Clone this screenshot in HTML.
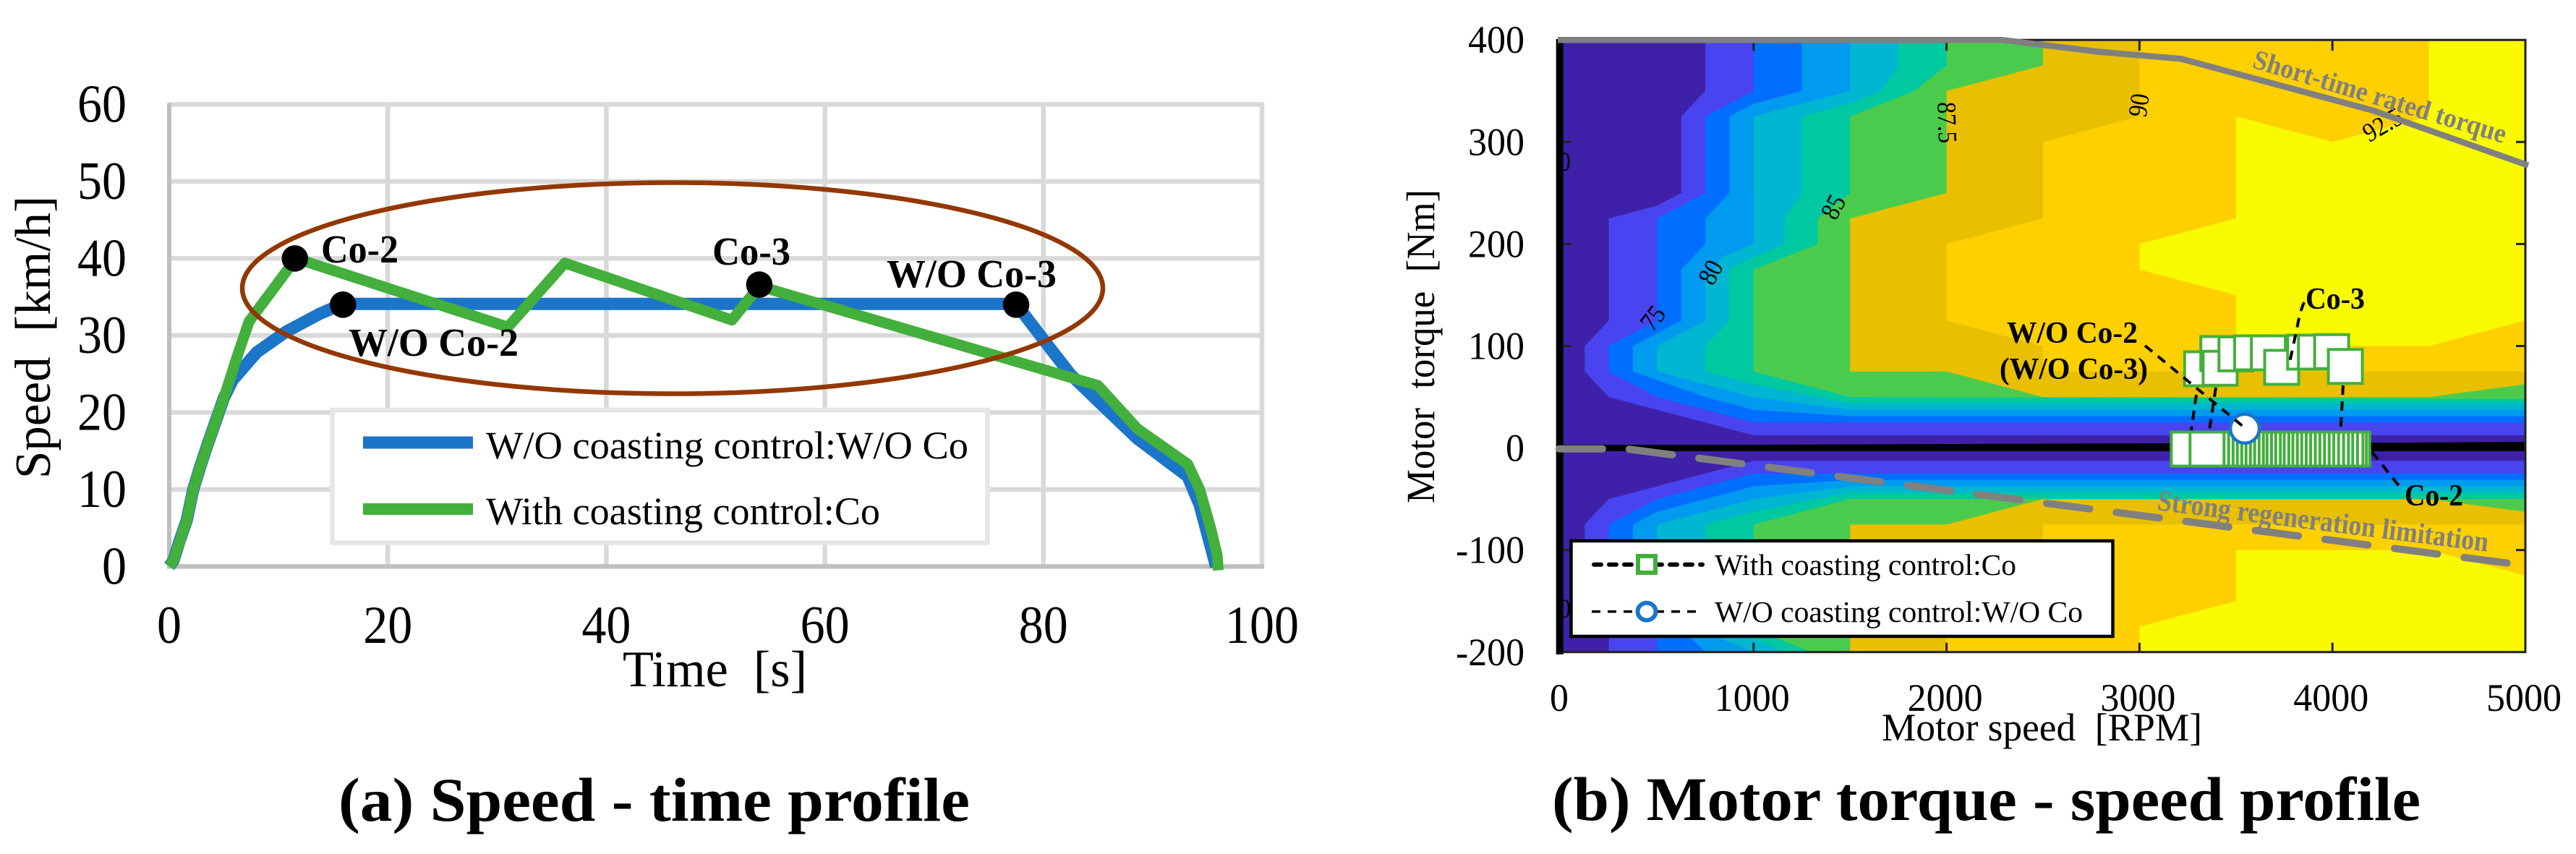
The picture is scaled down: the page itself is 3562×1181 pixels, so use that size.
<!DOCTYPE html>
<html lang="en">
<head>
<meta charset="utf-8">
<title>Speed-time and motor torque-speed profiles</title>
<style>
  html, body { margin: 0; padding: 0; background: #fff; }
  svg { display: block; font-family: "Liberation Serif", serif; }
  text { fill: #000; }
  .bold { font-weight: bold; }
</style>
</head>
<body>
<svg id="figure" xmlns="http://www.w3.org/2000/svg" width="3562" height="1181" viewBox="0 0 3562 1181">
  <defs>
    <clipPath id="plot-clip"><rect x="2158" y="55" width="1334" height="847"/></clipPath>
  </defs>
  <rect width="3562" height="1181" fill="#fff"/>

  <g id="left-grid"></g>
  <g id="left-ticks" font-size="74"></g>
  <text x="861" y="949" font-size="71" textLength="255" lengthAdjust="spacingAndGlyphs">Time&#160; [s]</text>
  <text transform="translate(69 662) rotate(-90)" font-size="70" textLength="391" lengthAdjust="spacingAndGlyphs">Speed&#160; [km/h]</text>
  <g id="left-series"></g>
  <ellipse cx="930" cy="398.5" rx="595" ry="146" fill="none" stroke="#933800" stroke-width="6.5"/>

  <g>
    <rect x="459.5" y="567" width="906" height="183.5" fill="#fff" stroke="#e6e6e6" stroke-width="6.5"/>
    <rect x="502" y="603.5" width="152" height="17" fill="#1b75c9"/>
    <text x="672" y="634" font-size="54" textLength="667" lengthAdjust="spacingAndGlyphs">W/O coasting control:W/O Co</text>
    <rect x="502" y="696" width="152" height="16" fill="#43af3c"/>
    <text x="672" y="725" font-size="54" textLength="545" lengthAdjust="spacingAndGlyphs">With coasting control:Co</text>
  </g>

  <g id="left-points"></g>
  <text class="bold" x="444" y="363" font-size="55" textLength="107" lengthAdjust="spacingAndGlyphs">Co-2</text>
  <text class="bold" x="482" y="492" font-size="55" textLength="235" lengthAdjust="spacingAndGlyphs">W/O Co-2</text>
  <text class="bold" x="985" y="366" font-size="55" textLength="108" lengthAdjust="spacingAndGlyphs">Co-3</text>
  <text class="bold" x="1226" y="397" font-size="55" textLength="235" lengthAdjust="spacingAndGlyphs">W/O Co-3</text>
  <text class="bold" x="468" y="1135" font-size="86" textLength="873" lengthAdjust="spacingAndGlyphs">(a) Speed - time profile</text>

  <g id="contours" clip-path="url(#plot-clip)"></g>
  <g id="contour-labels" clip-path="url(#plot-clip)" font-size="37"></g>
  <polygon points="2158,615 2430,615 2700,614 3000,613 3270,612.5 3492,611 3492,624 2158,624" fill="#000"/>
  <g id="right-axes"></g>
  <g id="limit-lines"></g>
  <text class="bold" transform="translate(3113 93) rotate(16.8)" font-size="38" textLength="364" lengthAdjust="spacingAndGlyphs" style="fill:#808080">Short-time rated torque</text>
  <text class="bold" transform="translate(2982 705) rotate(7.2)" font-size="40" textLength="461" lengthAdjust="spacingAndGlyphs" style="fill:#808080">Strong regeneration limitation</text>

  <g>
    <rect x="2172.5" y="748" width="749" height="132" fill="#fff" stroke="#000" stroke-width="4.5"/>
    <line x1="2204" y1="780.7" x2="2354" y2="780.7" stroke="#000" stroke-width="6" stroke-linecap="round" stroke-dasharray="10 11"/>
    <rect x="2265" y="769" width="24" height="23" fill="#fff" stroke="#43af3c" stroke-width="6"/>
    <text x="2371" y="795" font-size="41" textLength="417" lengthAdjust="spacingAndGlyphs">With coasting control:Co</text>
    <line x1="2201" y1="845.7" x2="2354" y2="845.7" stroke="#000" stroke-width="3.5" stroke-dasharray="12 10"/>
    <ellipse cx="2277" cy="845.7" rx="12.5" ry="12" fill="#fff" stroke="#1b75c9" stroke-width="6"/>
    <text x="2371" y="860" font-size="41" textLength="509" lengthAdjust="spacingAndGlyphs">W/O coasting control:W/O Co</text>
  </g>

  <g stroke="#000" stroke-width="4" fill="none" stroke-dasharray="13 9">
    <line x1="3037" y1="546" x2="3030" y2="595"/>
    <line x1="3064" y1="536" x2="3055" y2="595"/>
    <line x1="3240" y1="533" x2="3236.5" y2="595"/>
  </g>
  <g id="right-markers"></g>
  <g stroke="#000" stroke-width="4" fill="none" stroke-dasharray="13 10">
    <line x1="2966" y1="478" x2="3102" y2="590"/>
    <path d="M3186 418 Q3180 432 3177 450 L3165 506"/>
    <line x1="3280" y1="625" x2="3318" y2="673"/>
  </g>

  <text class="bold" x="2775" y="474" font-size="42" textLength="181" lengthAdjust="spacingAndGlyphs">W/O Co-2</text>
  <text class="bold" x="2765" y="524" font-size="42" textLength="205" lengthAdjust="spacingAndGlyphs">(W/O Co-3)</text>
  <text class="bold" x="3188" y="427" font-size="42" textLength="82" lengthAdjust="spacingAndGlyphs">Co-3</text>
  <text class="bold" x="3325" y="699" font-size="42" textLength="81" lengthAdjust="spacingAndGlyphs">Co-2</text>

  <g id="right-ticks" font-size="54"></g>
  <text x="2602" y="1024" font-size="54" textLength="443" lengthAdjust="spacingAndGlyphs">Motor speed&#160; [RPM]</text>
  <text transform="translate(1983 696) rotate(-90)" font-size="55" textLength="434" lengthAdjust="spacingAndGlyphs">Motor&#160; torque&#160; [Nm]</text>
  <text class="bold" x="2146" y="1134" font-size="86" textLength="1201" lengthAdjust="spacingAndGlyphs">(b) Motor torque - speed profile</text>
</svg>

<script>
/* ---------- (a) speed-time data ---------- */
const speedXTicks = [0, 20, 40, 60, 80, 100];
const speedYTicks = [0, 10, 20, 30, 40, 50, 60];
const withoutCoastTime  = [0, 0.4, 0.9, 1.6, 2.2, 2.8, 3.5, 5, 5.8, 8, 10.7, 13.75, 15.9, 77.5, 80.2, 82.5, 85.2, 88.6, 93.2, 94.3, 95.8];
const withoutCoastSpeed = [0, 0.8, 3.1, 6, 10, 12.8, 15.8, 21.9, 24.2, 27.8, 30.5, 32.8, 34.1, 34.1, 29.1, 24.9, 21.2, 16.6, 11.7, 8, 0];
const withCoastTime  = [0, 0.4, 0.93, 1.6, 2.2, 2.8, 3.5, 5, 6.2, 7.3, 11.6, 31, 36.2, 51.5, 54, 85, 88.6, 93.2, 94.3, 95.3, 95.9, 96];
const withCoastSpeed = [0, 0.8, 3.1, 6, 10, 12.8, 15.8, 21.9, 27.2, 31.8, 40, 31.1, 39.4, 32, 36.4, 23.5, 17.9, 13.3, 10, 5, 1.5, -0.5];
const pointTime  = [11.5, 15.9, 54, 77.5];
const pointSpeed = [40, 34, 36.6, 34];

/* ---------- (b) torque-speed data ---------- */
const torqueXTicks = [0, 1000, 2000, 3000, 4000, 5000];
const torqueYTicks = [-200, -100, 0, 100, 200, 300, 400];
const contourFill = {
  l925: '#ffd000', l90: '#e8c000', l875: '#4bcb4e', l85: '#00c8a0', l825: '#00b6d0',
  l80: '#009aee', l775: '#006eff', l75: '#4845f0', l725: '#3f21a9'
};
const level925Upper = [[4500,400],[4500,325],[4000,300],[3500,325],[3500,225],[3000,200],[3000,175],[3500,150],[3500,100],[4500,100],[5000,125]];
const level925Lower = [[5000,-125],[4500,-100],[3500,-100],[3500,-150],[3000,-175],[3000,-200]];
const level90Upper = [[3000,400],[3000,325],[2500,300],[2500,225],[2000,200],[2000,125],[2500,100],[2500,75],[5000,75]];
const level90Lower = [[5000,-75],[2500,-75],[2500,-100],[2000,-125],[2000,-200]];
const level875Upper = [[2500,400],[2500,375],[2000,350],[2000,250],[1500,225],[1500,75],[2000,75],[2500,50],[4500,50],[5000,62.5]];
const level875Lower = [[5000,-62.5],[4500,-50],[2500,-50],[2000,-75],[1500,-75],[1500,-200]];
const level85Upper = [[2000,400],[2000,375],[1833,350],[1500,325],[1500,250],[1333,225],[1333,200],[1000,175],[1000,75],[1500,50],[5000,48]];
const level85Lower = [[5000,-50],[1500,-50],[1000,-75],[1000,-175],[1130,-187],[1300,-200]];
const level825Upper = [[1750,400],[1750,375],[1660,350],[1500,337.5],[1250,325],[1250,250],[1160,225],[1160,200],[1000,187],[875,175],[875,125],[750,100],[750,75],[1000,62.5],[1500,43.75],[5000,43.75]];
const level825Lower = [[5000,-43.75],[1500,-43.75],[1000,-62.5],[750,-75],[750,-100],[875,-125],[875,-175],[1000,-187],[1160,-200]];
const level80Upper = [[1500,400],[1500,350],[1000,325],[1000,200],[833,187],[750,162],[750,125],[500,100],[500,75],[1000,50],[1500,37.5],[5000,37.5]];
const level80Lower = [[5000,-37.5],[1500,-37.5],[1000,-50],[500,-75],[500,-100],[750,-125],[750,-162],[833,-187],[1000,-200]];
const level775Upper = [[1250,400],[1250,350],[1000,337.5],[875,325],[875,250],[750,225],[750,200],[625,175],[625,125],[375,100],[375,75],[750,50],[1000,37.5],[1500,31.25],[5000,31.25]];
const level775Lower = [[5000,-31.25],[1500,-31.25],[1000,-37.5],[500,-62.5],[375,-75],[375,-100],[625,-125],[625,-175],[670,-185],[750,-200]];
const level75Upper = [[1000,400],[1000,350],[750,325],[750,250],[500,225],[500,125],[250,100],[250,75],[500,50],[1000,25],[5000,25]];
const level75Lower = [[5000,-25],[1000,-25],[500,-50],[250,-75],[250,-100],[500,-125],[500,-200]];
const level725Upper = [[750,400],[750,350],[625,325],[625,250],[500,237.5],[250,225],[250,125],[125,100],[125,75],[250,50],[1000,12.5],[5000,12.5]];
const level725Lower = [[5000,-12.5],[1000,-12.5],[250,-50],[125,-75],[125,-100],[250,-125],[250,-200]];

const ratedLimitRpm = [-15, 2287, 2780, 3215, 4213, 5015];
const ratedLimitTorque = [400, 400, 388.5, 381.5, 330.7, 277];
const regenLimitRpm = [-8, 340, 5000];
const regenLimitTorque = [-0.8, -0.8, -115];

/* green squares: draw order matters, later markers cover earlier ones */
const coastRpm = [4105, 4088, 4070, 4042, 4017, 3995, 3970, 3944, 3919, 3895, 3871, 3847, 3823, 3799, 3776, 3753, 3730, 3707, 3686, 3662, 3642, 3618, 3596, 3573, 3554, 3532, 3509, 3487, 3464, 3442, 3419, 3397, 3374, 3253, 3350];
const coastTorque = [-1, -1, -1, -1, -1, -1, -1, -1, -1, -1, -1, -1, -1, -1, -1, -1, -1, -1, -1, -1, -1, -1, -1, -1, -1, -1, -1, -1, -1, -1, -1, -1, -1, -1, -1];
const accelRpm = [3322, 3406, 3418, 3500, 3581, 3668, 3737, 3856, 3912, 3996, 4067];
const accelTorque = [77.7, 92.6, 78.2, 92.3, 93.3, 93.3, 79.1, 94, 94, 94.5, 80];
const withoutRpm = [3546];
const withoutTorque = [19];

const contourLabelText = ['70', '70', '75', '80', '85', '87.5', '90', '92.5'];
const contourLabelRpm = [-8, -8, 480, 780, 1416, 2000, 3000, 4262];
const contourLabelTorque = [280, -158, 127, 172, 236, 319, 336, 316.5];
const contourLabelAngle = [0, 0, -52, -62, -62, 88, -82, -30];

/* ---------- axis functions ---------- */
function xTime(t) { return 234 + t * 15.11; }
function ySpeed(v) { return 783.4 - v * 10.65; }
function xRpm(r) { return 2158 + r * 0.2668; }
function yTorque(t) { return 619.6 - t * 1.411; }

const NS = 'http://www.w3.org/2000/svg';
function make(tag, parent, attrs) {
  const el = document.createElementNS(NS, tag);
  for (const k in attrs) el.setAttribute(k, attrs[k]);
  parent.appendChild(el);
  return el;
}

/* ---------- (a) grid ---------- */
const leftGrid = document.getElementById('left-grid');
speedYTicks.forEach(function (v) {
  if (v === 0) return;
  const l = make('line', leftGrid, { x1: xTime(0), x2: xTime(100) + 3, y1: ySpeed(v), y2: ySpeed(v), stroke: '#d9d9d9', 'stroke-width': 6.5 });
  
  
});
speedXTicks.forEach(function (t) {
  if (t === 0) return;
  const l = make('line', leftGrid, { x1: xTime(t), x2: xTime(t), y1: ySpeed(60) - 3, y2: ySpeed(0), stroke: '#d9d9d9', 'stroke-width': 6.5 });
  
  
});
const speedAxisX = make('line', leftGrid, { x1: xTime(0) - 3, x2: xTime(100) + 3, y1: ySpeed(0), y2: ySpeed(0), stroke: '#bfbfbf', 'stroke-width': 6.5 });


const speedAxisY = make('line', leftGrid, { x1: xTime(0), x2: xTime(0), y1: ySpeed(60) - 2, y2: ySpeed(0), stroke: '#bfbfbf', 'stroke-width': 6 });



/* ---------- (a) tick labels ---------- */
const leftTicks = document.getElementById('left-ticks');
speedYTicks.forEach(function (v) {
  const s = String(v);
  const t = make('text', leftTicks, { x: 175, y: ySpeed(v) + 24, 'text-anchor': 'end', textLength: s.length * 34, lengthAdjust: 'spacingAndGlyphs' });
  
  
  t.textContent = s;
});
speedXTicks.forEach(function (v) {
  const s = String(v);
  const t = make('text', leftTicks, { x: xTime(v), y: 889, 'text-anchor': 'middle', textLength: s.length * 34, lengthAdjust: 'spacingAndGlyphs' });
  
  
  t.textContent = s;
});

/* ---------- (a) series ---------- */
function seriesPoints(xs, ys) {
  return xs.map(function (x, i) { return xTime(x).toFixed(1) + ',' + ySpeed(ys[i]).toFixed(1); }).join(' ');
}
const leftSeries = document.getElementById('left-series');
const lineWithout = make('polyline', leftSeries, { points: seriesPoints(withoutCoastTime, withoutCoastSpeed), fill: 'none', stroke: '#1b75c9', 'stroke-width': 17, 'stroke-linejoin': 'round' });


const lineWith = make('polyline', leftSeries, { points: seriesPoints(withCoastTime, withCoastSpeed), fill: 'none', stroke: '#43af3c', 'stroke-width': 15, 'stroke-linejoin': 'round' });



const leftPoints = document.getElementById('left-points');
pointTime.forEach(function (t, i) {
  const c = make('ellipse', leftPoints, { cx: xTime(t), cy: ySpeed(pointSpeed[i]), rx: 18.3, ry: 18.3, fill: '#000' });
  
  
});

/* ---------- (b) contours ---------- */
const contourGroup = document.getElementById('contours');
const contourBackground = make('rect', contourGroup, { x: xRpm(0), y: yTorque(400), width: xRpm(5000) - xRpm(0), height: yTorque(-200) - yTorque(400), fill: '#f9fa00' });



function contourBand(upper, lower, fill, name) {
  const all = upper.concat(lower).concat([[-20, -200], [-20, 400]]);
  const pts = all.map(function (p) { return xRpm(p[0]).toFixed(1) + ',' + yTorque(p[1]).toFixed(1); }).join(' ');
  const poly = make('polygon', contourGroup, { points: pts, fill: fill });
  
  
}
contourBand(level925Upper, level925Lower, contourFill.l925, 'contour-band-90-92');
contourBand(level90Upper, level90Lower, contourFill.l90, 'contour-band-87-90');
contourBand(level875Upper, level875Lower, contourFill.l875, 'contour-band-85-87');
contourBand(level85Upper, level85Lower, contourFill.l85, 'contour-band-82-85');
contourBand(level825Upper, level825Lower, contourFill.l825, 'contour-band-80-82');
contourBand(level80Upper, level80Lower, contourFill.l80, 'contour-band-77-80');
contourBand(level775Upper, level775Lower, contourFill.l775, 'contour-band-75-77');
contourBand(level75Upper, level75Lower, contourFill.l75, 'contour-band-72-75');
contourBand(level725Upper, level725Lower, contourFill.l725, 'contour-band-lowest');

const contourLabels = document.getElementById('contour-labels');
contourLabelText.forEach(function (s, i) {
  const x = xRpm(contourLabelRpm[i]);
  const y = yTorque(contourLabelTorque[i]);
  const t = make('text', contourLabels, { x: x, y: y, 'text-anchor': 'middle', 'dominant-baseline': 'central', textLength: s.length > 2 ? 57 : 32, lengthAdjust: 'spacingAndGlyphs', transform: 'rotate(' + contourLabelAngle[i] + ' ' + x + ' ' + y + ')' });
  
  
  t.textContent = s;
});

/* ---------- (b) axes ---------- */
const rightAxes = document.getElementById('right-axes');
const frame = make('polyline', rightAxes, { points: xRpm(0) + ',' + yTorque(400) + ' ' + xRpm(5000) + ',' + yTorque(400) + ' ' + xRpm(5000) + ',' + yTorque(-200) + ' ' + xRpm(0) + ',' + yTorque(-200), fill: 'none', stroke: '#222', 'stroke-width': 3 });


const blackAxis = make('rect', rightAxes, { x: 2151.7, y: 54, width: 10, height: 851, fill: '#000' });



torqueXTicks.forEach(function (r) {
  if (r === 0 || r === 5000) return;
  const a = make('line', rightAxes, { x1: xRpm(r), x2: xRpm(r), y1: yTorque(-200), y2: yTorque(-200) - 13, stroke: '#222', 'stroke-width': 3 });
  
  
  const b = make('line', rightAxes, { x1: xRpm(r), x2: xRpm(r), y1: yTorque(400), y2: yTorque(400) + 15, stroke: '#222', 'stroke-width': 3 });
  
  
});
torqueYTicks.forEach(function (v) {
  if (v === -200 || v === 400 || v === 0) return;
  const a = make('line', rightAxes, { x1: 2161, x2: 2173, y1: yTorque(v), y2: yTorque(v), stroke: '#222', 'stroke-width': 3 });
  
  
  const b = make('line', rightAxes, { x1: xRpm(5000), x2: xRpm(5000) - 13, y1: yTorque(v), y2: yTorque(v), stroke: '#222', 'stroke-width': 3 });
  
  
});

const rightTicks = document.getElementById('right-ticks');
torqueXTicks.forEach(function (v) {
  const s = String(v);
  const t = make('text', rightTicks, { x: xRpm(v) - 2, y: 983, 'text-anchor': 'middle', textLength: s.length * 26, lengthAdjust: 'spacingAndGlyphs' });
  
  
  t.textContent = s;
});
torqueYTicks.forEach(function (v) {
  const s = String(v);
  const width = v < 0 ? (s.length - 1) * 26 + 17 : s.length * 26;
  const t = make('text', rightTicks, { x: 2108, y: yTorque(v) + 18, 'text-anchor': 'end', textLength: width, lengthAdjust: 'spacingAndGlyphs' });
  
  
  t.textContent = s;
});

/* ---------- (b) limit lines ---------- */
function torquePoints(xs, ys) {
  return xs.map(function (x, i) { return xRpm(x).toFixed(1) + ',' + yTorque(ys[i]).toFixed(1); }).join(' ');
}
const limitGroup = document.getElementById('limit-lines');
const ratedLine = make('polyline', limitGroup, { points: torquePoints(ratedLimitRpm, ratedLimitTorque), fill: 'none', stroke: '#808080', 'stroke-width': 8.5 });


const regenLine = make('polyline', limitGroup, { points: torquePoints(regenLimitRpm, regenLimitTorque), fill: 'none', stroke: '#808080', 'stroke-width': 10, 'stroke-linecap': 'round', 'stroke-dasharray': '60 37' });



/* ---------- (b) markers ---------- */
const markerGroup = document.getElementById('right-markers');
function drawSquares(rpms, torques, name) {
  rpms.forEach(function (r, i) {
    const x = xRpm(r);
    const y = yTorque(torques[i]);
    const s = make('rect', markerGroup, { x: x - 23.5, y: y - 23.5, width: 47, height: 47, fill: '#fff', stroke: '#43af3c', 'stroke-width': 4 });
    
    
  });
}
drawSquares(coastRpm, coastTorque, 'coasting-square-marker');
drawSquares(accelRpm, accelTorque, 'accelerating-square-marker');
withoutRpm.forEach(function (r, i) {
  const c = make('ellipse', markerGroup, { cx: xRpm(r), cy: yTorque(withoutTorque[i]), rx: 20, ry: 20, fill: '#fff', stroke: '#1b75c9', 'stroke-width': 4.5 });
  
  
});
</script>
</body>
</html>
